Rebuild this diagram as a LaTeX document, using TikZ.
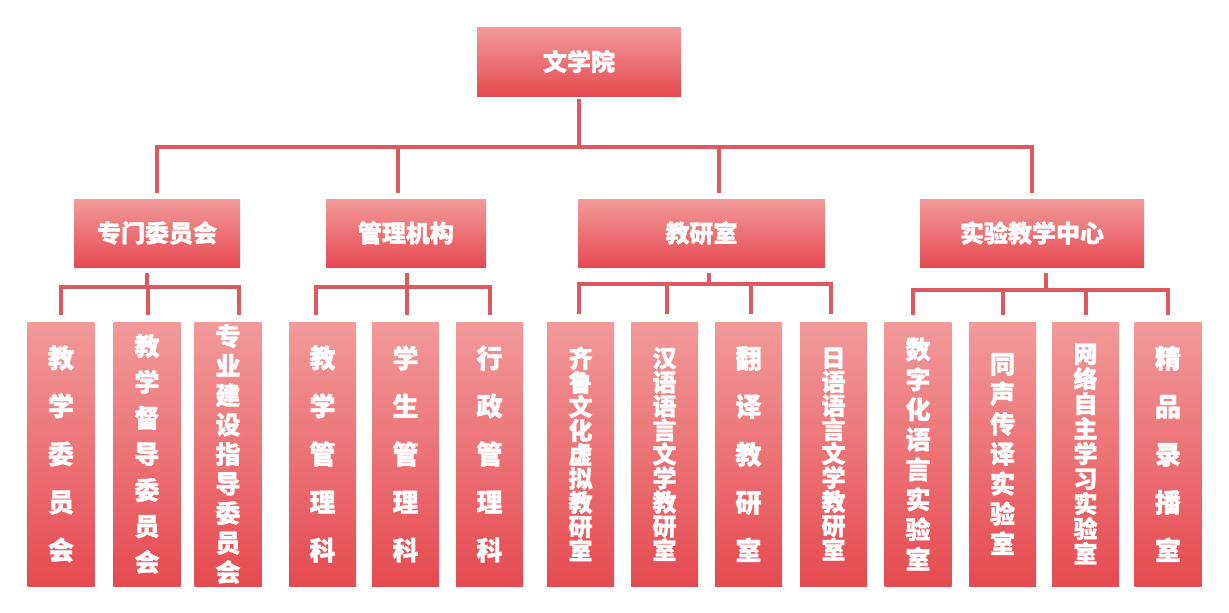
\documentclass[tikz,border=0pt]{standalone}
\usepackage{fontspec}
\newfontfamily\cjk{Noto Sans CJK SC}[BoldFeatures={FakeBold=1.3}]
\definecolor{boxtop}{HTML}{F29A9A}
\definecolor{boxbot}{HTML}{E54A51}
\definecolor{linec}{HTML}{E0585F}
\begin{document}
\begin{tikzpicture}[x=1pt,y=-1pt,
  conn/.style={draw=linec,line width=4pt,line join=miter},
  boxbase/.style={rectangle,inner sep=0pt,top color=boxtop,bottom color=boxbot,text=white,draw=none},
  headbox/.style n args={2}{boxbase,minimum width=#1,minimum height=#2,font=\cjk\bfseries\fontsize{24}{28}\selectfont},
  leaf/.style n args={2}{boxbase,minimum width=67,minimum height=264,align=center,font=\cjk\bfseries\fontsize{#1}{#2}\selectfont}]
\useasboundingbox (0,0) rectangle (1229,613);
\fill[white] (0,0) rectangle (1229,613);
% top
\node[headbox={204}{69}] (wxy) at (579,61.5) {文学院};
% level 2
\node[headbox={166}{68}] (zm) at (157,233) {专门委员会};
\node[headbox={160}{68}] (gl) at (406,233) {管理机构};
\node[headbox={247}{68}] (jy) at (701.5,233) {教研室};
\node[headbox={224}{68}] (sy) at (1032,233) {实验教学中心};
% leaves
\node[leaf={26}{48}] (l1) at (61,454) {教\\学\\委\\员\\会};
\node[leaf={25}{36}] (l2) at (147,454) {教\\学\\督\\导\\委\\员\\会};
\node[leaf={25}{29.5}] (l3) at (228,454) {专\\业\\建\\设\\指\\导\\委\\员\\会};
\node[leaf={26}{48}] (l4) at (322.5,454) {教\\学\\管\\理\\科};
\node[leaf={26}{48}] (l5) at (405.5,454) {学\\生\\管\\理\\科};
\node[leaf={26}{48}] (l6) at (489.5,454) {行\\政\\管\\理\\科};
\node[leaf={24}{24}] (l7) at (580.5,454) {齐\\鲁\\文\\化\\虚\\拟\\教\\研\\室};
\node[leaf={24}{24}] (l8) at (664.5,454) {汉\\语\\语\\言\\文\\学\\教\\研\\室};
\node[leaf={26}{48}] (l9) at (748.5,454) {翻\\译\\教\\研\\室};
\node[leaf={24}{24}] (l10) at (833.5,454) {日\\语\\语\\言\\文\\学\\教\\研\\室};
\node[leaf={25}{30}] (l11) at (918,454) {数\\字\\化\\语\\言\\实\\验\\室};
\node[leaf={25}{30}] (l12) at (1002.5,454) {同\\声\\传\\译\\实\\验\\室};
\node[leaf={24}{25}] (l13) at (1085.5,454) {网\\络\\自\\主\\学\\习\\实\\验\\室};
\node[leaf={26}{48}] (l14) at (1168,454) {精\\品\\录\\播\\室};
% main bus
\coordinate (bA) at (157,147);
\coordinate (bB) at (398,147);
\coordinate (bC) at (719,147);
\coordinate (bD) at (1032,147);
\draw[conn] ([yshift=-3pt]wxy.south) -- (wxy.south |- bA);
\draw[conn] ([yshift=6pt]bA |- zm.north) -- (bA) -- (bD) -- ([yshift=6pt]bD |- sy.north);
\draw[conn] (bB) -- ([yshift=6pt]bB |- gl.north);
\draw[conn] (bC) -- ([yshift=6pt]bC |- jy.north);
% group 1
\coordinate (g1) at (147,287);
\draw[conn] ([yshift=-6pt]g1 |- zm.south) -- (g1);
\draw[conn] ([yshift=7pt]61,0 |- l1.north) -- (61,287) -- (239,287) -- ([yshift=7pt]239,0 |- l3.north);
\draw[conn] (148,287) -- ([yshift=7pt]148,0 |- l2.north);
% group 2
\coordinate (g2) at (407,287);
\draw[conn] ([yshift=-6pt]g2 |- gl.south) -- (g2);
\draw[conn] ([yshift=7pt]316,0 |- l4.north) -- (316,287) -- (490,287) -- ([yshift=7pt]490,0 |- l6.north);
\draw[conn] (g2) -- ([yshift=7pt]g2 |- l5.north);
% group 3
\coordinate (g3) at (709,284);
\draw[conn] ([yshift=-6pt]g3 |- jy.south) -- (g3);
\draw[conn] ([yshift=8pt]579,0 |- l7.north) -- (579,284) -- (831,284) -- ([yshift=8pt]831,0 |- l10.north);
\draw[conn] (667,284) -- ([yshift=8pt]667,0 |- l8.north);
\draw[conn] (751,284) -- ([yshift=8pt]751,0 |- l9.north);
% group 4
\coordinate (g4) at (1046,290);
\draw[conn] ([yshift=-6pt]g4 |- sy.south) -- (g4);
\draw[conn] ([yshift=7pt]913,0 |- l11.north) -- (913,290) -- (1168,290) -- ([yshift=7pt]1168,0 |- l14.north);
\draw[conn] (1003,290) -- ([yshift=7pt]1003,0 |- l12.north);
\draw[conn] (1086,290) -- ([yshift=7pt]1086,0 |- l13.north);
\end{tikzpicture}
\end{document}
